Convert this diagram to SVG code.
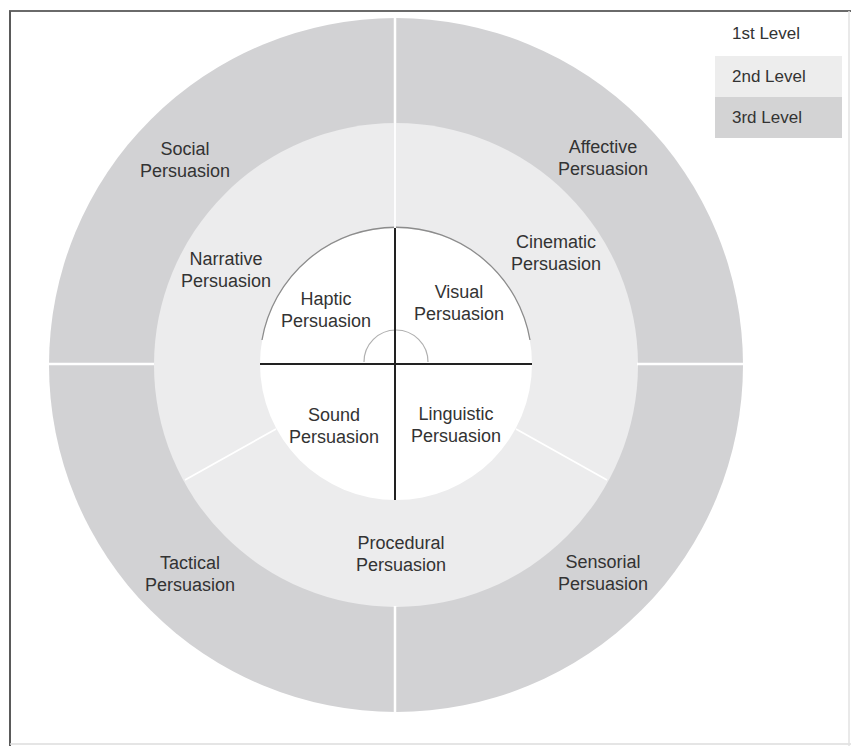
<svg xmlns="http://www.w3.org/2000/svg" width="851" height="746" viewBox="0 0 851 746">
<style>
.t{font-family:"Liberation Sans",Arial,sans-serif;font-size:18px;fill:#333333;text-anchor:middle}
.lg{font-family:"Liberation Sans",Arial,sans-serif;font-size:17px;fill:#333333}
.div{stroke:#ffffff;stroke-width:2.5;fill:none}
.divm{stroke:#ffffff;stroke-width:1.8;fill:none}
.cross{stroke:#222222;stroke-width:2;fill:none}
</style>
<rect x="0" y="0" width="851" height="746" fill="#ffffff"/>
<g id="frame">
<line x1="9" y1="11" x2="851" y2="11" stroke="#6a6a6a" stroke-width="2"/>
<line x1="10" y1="11" x2="10" y2="746" stroke="#5a5a5a" stroke-width="2"/>
<line x1="10" y1="744" x2="851" y2="744" stroke="#dddddd" stroke-width="1.5"/>
<line x1="849" y1="11" x2="849" y2="746" stroke="#e2e2e2" stroke-width="1.5"/>
</g>
<g id="level3-ring"><circle cx="396" cy="365" r="347" fill="#d2d2d4"/></g>
<g id="level2-ring"><circle cx="396" cy="365" r="242" fill="#ececed"/></g>
<g id="level1-core">
<circle cx="396" cy="364" r="136" fill="#ffffff"/>
<path d="M262,340 A136,136 0 0 1 530,340" fill="none" stroke="#8c8c8c" stroke-width="1.3"/>
<path d="M364,362 A32,32 0 0 1 428,362" fill="none" stroke="#b0b0b0" stroke-width="1.2"/>
</g>
<g id="connectors">
<line class="div" x1="395" y1="17" x2="395" y2="123"/>
<line class="div" x1="395" y1="606" x2="395" y2="713"/>
<line class="div" x1="48" y1="364" x2="154" y2="364"/>
<line class="div" x1="637" y1="364" x2="744" y2="364"/>
<line class="divm" x1="395" y1="123" x2="395" y2="228"/>
<line class="divm" x1="276" y1="429" x2="185" y2="480"/>
<line class="divm" x1="516" y1="429" x2="607" y2="480"/>
<line class="cross" x1="260" y1="364" x2="532" y2="364"/>
<line class="cross" x1="395" y1="228" x2="395" y2="500"/>
</g>
<g id="social"><text class="t" x="185" y="155">Social</text><text class="t" x="185" y="177">Persuasion</text></g>
<g id="affective"><text class="t" x="603" y="153">Affective</text><text class="t" x="603" y="175">Persuasion</text></g>
<g id="narrative"><text class="t" x="226" y="265">Narrative</text><text class="t" x="226" y="287">Persuasion</text></g>
<g id="cinematic"><text class="t" x="556" y="248">Cinematic</text><text class="t" x="556" y="270">Persuasion</text></g>
<g id="haptic"><text class="t" x="326" y="305">Haptic</text><text class="t" x="326" y="327">Persuasion</text></g>
<g id="visual"><text class="t" x="459" y="298">Visual</text><text class="t" x="459" y="320">Persuasion</text></g>
<g id="sound"><text class="t" x="334" y="421">Sound</text><text class="t" x="334" y="443">Persuasion</text></g>
<g id="linguistic"><text class="t" x="456" y="420">Linguistic</text><text class="t" x="456" y="442">Persuasion</text></g>
<g id="procedural"><text class="t" x="401" y="549">Procedural</text><text class="t" x="401" y="571">Persuasion</text></g>
<g id="tactical"><text class="t" x="190" y="569">Tactical</text><text class="t" x="190" y="591">Persuasion</text></g>
<g id="sensorial"><text class="t" x="603" y="568">Sensorial</text><text class="t" x="603" y="590">Persuasion</text></g>
<g id="legend">
<rect x="715" y="56" width="127" height="41" fill="#ededed"/>
<rect x="715" y="97" width="127" height="41" fill="#d3d3d4"/>
<text class="lg" x="732" y="39">1st Level</text>
<text class="lg" x="732" y="82">2nd Level</text>
<text class="lg" x="732" y="123">3rd Level</text>
</g>
</svg>
